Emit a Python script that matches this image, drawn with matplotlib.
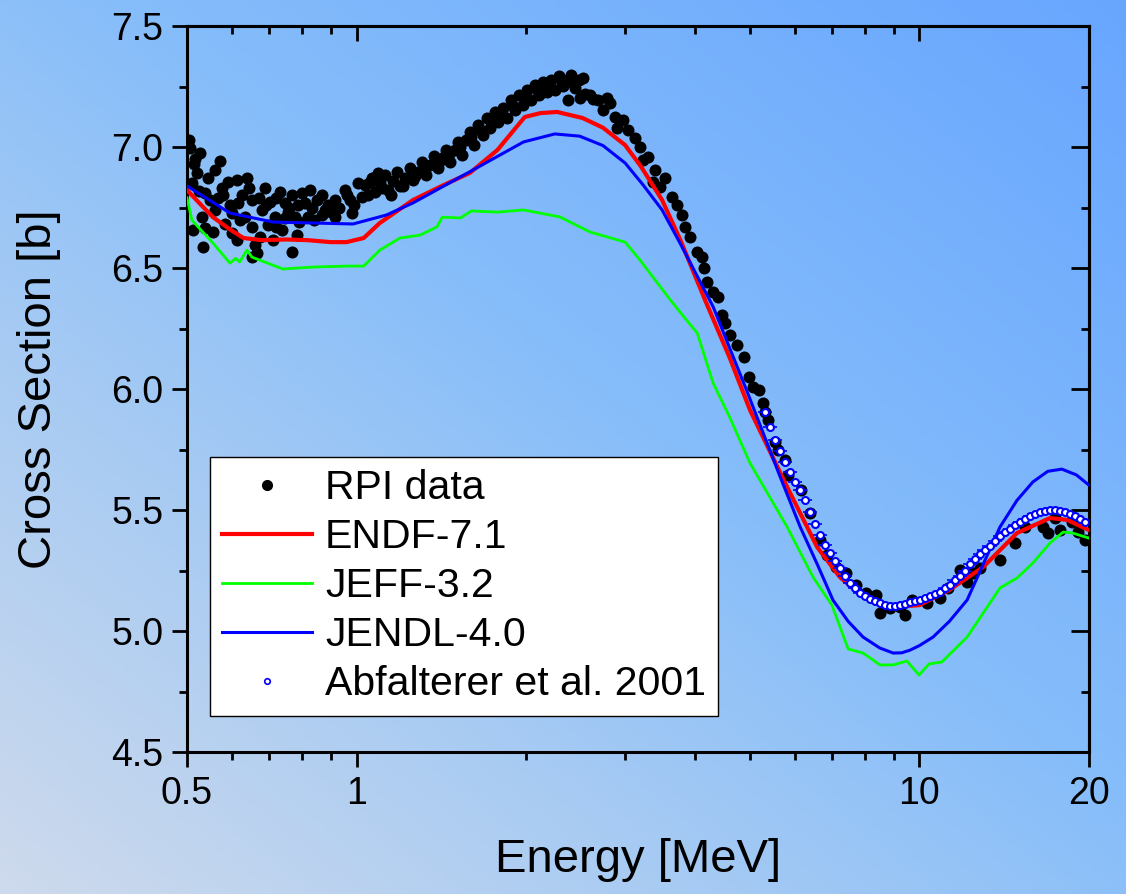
import numpy as np
import matplotlib
matplotlib.use('Agg')
import matplotlib.pyplot as plt
from matplotlib.colors import LinearSegmentedColormap
from matplotlib.lines import Line2D
from matplotlib.ticker import FixedLocator, NullFormatter, FixedFormatter

plt.rcParams['font.family'] = ['Liberation Sans', 'DejaVu Sans']

# ENDF-7.1 evaluation
endf_e = [0.5, 0.53, 0.556, 0.60, 0.63, 0.68, 0.75, 0.82, 0.90, 0.96, 1.03, 1.10, 1.26, 1.42,
          1.59, 1.78, 1.99, 2.12, 2.27, 2.52, 2.74, 3.0, 3.2, 3.49, 3.76, 4.16, 4.6, 5.0, 5.82,
          6.58, 7.22, 7.94, 8.98, 10.0, 11.3, 12.97, 14.9, 17.06, 18.3, 20.0]
endf_xs = [6.822, 6.76, 6.71, 6.655, 6.624, 6.615, 6.618, 6.615, 6.607, 6.607, 6.624, 6.686, 6.781, 6.84,
           6.893, 6.988, 7.124, 7.14, 7.145, 7.12, 7.08, 7.008, 6.92, 6.781, 6.616, 6.368, 6.13, 5.913, 5.595,
           5.347, 5.223, 5.14, 5.099, 5.107, 5.17, 5.264, 5.405, 5.467, 5.459, 5.417]

# JEFF-3.2 evaluation
jeff_e = [0.5, 0.51, 0.556, 0.596, 0.61, 0.62, 0.639, 0.652, 0.74, 0.837, 0.962, 1.03, 1.10, 1.195,
          1.297, 1.39, 1.42, 1.53, 1.60, 1.78, 1.98, 2.118, 2.298, 2.598, 3.0, 3.188, 3.61, 3.755,
          4.03, 4.3, 4.6, 5.0, 5.82, 6.47, 6.99, 7.47, 7.94, 8.51, 8.98, 9.5, 9.98, 10.4, 10.96,
          12.15, 13.9, 14.9, 15.9, 17.06, 18.0, 18.7, 20.0]
jeff_xs = [6.79, 6.698, 6.603, 6.52, 6.54, 6.525, 6.574, 6.545, 6.496, 6.504, 6.508, 6.508, 6.574, 6.624,
           6.636, 6.67, 6.71, 6.707, 6.736, 6.731, 6.74, 6.727, 6.711, 6.649, 6.607, 6.533, 6.368, 6.318,
           6.231, 6.025, 5.884, 5.694, 5.43, 5.223, 5.107, 4.926, 4.909, 4.86, 4.86, 4.876, 4.818, 4.864, 4.872,
           4.975, 5.178, 5.219, 5.281, 5.364, 5.409, 5.405, 5.384]

# JENDL-4.0 evaluation
jendl_e = [0.5, 0.596, 0.711, 0.837, 0.986, 1.13, 1.26, 1.61, 1.98, 2.25, 2.49, 2.74, 3.0, 3.23,
           3.49, 3.755, 4.3, 4.94, 5.65, 6.14, 6.6, 7.02, 7.47, 7.94, 8.5, 8.98, 9.3, 9.62, 10.0,
           10.57, 11.3, 12.15, 13.0, 13.9, 14.9, 15.9, 16.9, 17.9, 19.0, 20.0]
jendl_xs = [6.839, 6.727, 6.69, 6.686, 6.682, 6.719, 6.769, 6.905, 7.021, 7.054, 7.045, 7.006, 6.934, 6.843,
            6.74, 6.603, 6.34, 5.99, 5.64, 5.43, 5.27, 5.128, 5.04, 4.975, 4.93, 4.909, 4.91, 4.921, 4.94,
            4.975, 5.04, 5.128, 5.28, 5.43, 5.54, 5.616, 5.66, 5.669, 5.645, 5.603]

# RPI transmission data
rpi_e = [0.506, 0.527, 0.572, 0.521, 0.561, 0.545, 0.510, 0.591, 0.613, 0.639, 0.577, 0.688, 0.731,
         0.768, 0.800, 0.827, 0.869, 0.954, 1.006, 1.092, 1.057, 0.538, 0.568, 0.616, 0.652, 0.702,
         0.746, 0.787, 0.834, 0.879, 0.916, 0.974, 1.023, 0.531, 0.561, 0.601, 0.634, 0.680, 0.717,
         0.746, 0.778, 0.820, 0.869, 0.916, 0.982, 0.512, 0.538, 0.556, 0.601, 0.652, 0.696, 0.737,
         0.784, 0.613, 0.534, 0.660, 0.711, 0.666, 0.652, 0.768, 0.505, 0.516,
         0.515, 0.525, 0.550, 0.580, 0.595, 0.625, 0.645, 0.670, 0.690, 0.720, 0.755, 0.790, 0.810,
         0.850, 0.890, 0.930, 0.960, 0.990, 0.620, 0.585, 0.675, 0.720, 0.760, 0.840, 0.900,
         1.035, 1.066, 1.079, 1.101, 1.124, 1.138, 1.161, 1.181, 1.195, 1.219, 1.245, 1.260, 1.286,
         1.307, 1.329, 1.351, 1.373, 1.396, 1.419, 1.442, 1.466, 1.496, 1.515, 1.539, 1.565, 1.591,
         1.617, 1.643, 1.677, 1.705, 1.726, 1.762, 1.784, 1.820, 1.850, 1.881, 1.912, 1.944, 1.976,
         2.008, 2.041, 2.075, 2.109, 2.144, 2.179, 2.215, 2.252, 2.289, 2.327, 2.365, 2.404, 2.444,
         2.484, 2.525, 2.375, 2.494, 2.598, 2.685, 2.786, 2.741, 2.820, 2.878, 2.974, 2.902, 3.036,
         1.050, 1.110, 1.150, 1.210, 1.270, 1.330, 1.400, 1.460, 1.530, 1.600, 1.660, 1.740, 1.800,
         1.900, 2.000, 2.100, 2.200, 2.320, 2.430, 2.550, 2.630,
         3.124, 3.188, 3.294, 3.228, 3.390, 3.362, 3.532, 3.460, 3.634, 3.709, 3.786, 3.833, 3.912,
         4.026, 4.109, 4.142, 4.193, 4.298, 4.386, 4.458, 4.514, 4.607, 4.741, 4.878, 4.980, 5.062,
         5.187, 5.271, 5.318, 5.384, 5.540, 5.608, 5.771, 5.830, 6.161, 6.391, 6.657, 6.850, 7.107,
         7.404, 7.712, 8.035, 8.370, 8.508, 8.863, 9.233, 9.424, 9.698, 10.32, 10.88, 11.24, 11.80,
         12.15, 12.45, 12.81, 13.90, 14.78, 15.40, 16.57, 16.91, 17.77, 17.41, 18.66, 19.12, 19.68]
rpi_xs = [6.996, 6.975, 6.942, 6.893, 6.905, 6.872, 6.851, 6.855, 6.864, 6.872, 6.831, 6.831, 6.814,
          6.802, 6.810, 6.822, 6.802, 6.822, 6.851, 6.893, 6.855, 6.810, 6.789, 6.769, 6.781, 6.773,
          6.769, 6.760, 6.748, 6.740, 6.781, 6.781, 6.793, 6.711, 6.740, 6.727, 6.711, 6.740, 6.711,
          6.707, 6.711, 6.711, 6.719, 6.711, 6.727, 6.657, 6.665, 6.649, 6.645, 6.669, 6.678, 6.657,
          6.636, 6.616, 6.587, 6.595, 6.616, 6.562, 6.545, 6.566, 7.03, 6.95,
          6.93, 6.82, 6.78, 6.80, 6.76, 6.80, 6.83, 6.79, 6.76, 6.79, 6.73, 6.69, 6.77,
          6.78, 6.76, 6.75, 6.80, 6.76, 6.70, 6.68, 6.63, 6.67, 6.75, 6.70, 6.73,
          6.843, 6.872, 6.814, 6.851, 6.884, 6.822, 6.860, 6.897, 6.839, 6.872, 6.913, 6.864, 6.897,
          6.938, 6.884, 6.926, 6.963, 6.913, 6.955, 6.988, 6.938, 6.988, 7.021, 6.967, 7.029, 7.062,
          7.008, 7.091, 7.050, 7.120, 7.079, 7.145, 7.103, 7.161, 7.120, 7.194, 7.153, 7.215, 7.174,
          7.236, 7.194, 7.256, 7.215, 7.269, 7.227, 7.277, 7.236, 7.293, 7.252, 7.277, 7.298, 7.244,
          7.277, 7.285, 7.194, 7.202, 7.215, 7.194, 7.202, 7.153, 7.182, 7.124, 7.112, 7.079, 7.070,
          6.80, 6.83, 6.80, 6.84, 6.88, 6.92, 6.94, 6.97, 7.00, 7.04, 7.07, 7.10, 7.13,
          7.17, 7.20, 7.23, 7.25, 7.27, 7.26, 7.22, 7.20,
          7.037, 7.000, 6.959, 6.946, 6.905, 6.855, 6.872, 6.835, 6.793, 6.760, 6.719, 6.669, 6.628,
          6.566, 6.545, 6.500, 6.442, 6.401, 6.380, 6.306, 6.273, 6.223, 6.182, 6.132, 6.050, 6.008,
          5.996, 5.942, 5.905, 5.872, 5.781, 5.748, 5.707, 5.645, 5.583, 5.488, 5.376, 5.314, 5.264,
          5.240, 5.190, 5.157, 5.149, 5.074, 5.095, 5.099, 5.066, 5.128, 5.116, 5.136, 5.178, 5.252,
          5.202, 5.240, 5.260, 5.293, 5.364, 5.430, 5.430, 5.405, 5.417, 5.467, 5.450, 5.409, 5.376]

# Abfalterer et al. 2001
abf_e = [5.318, 5.428, 5.540, 5.654, 5.771, 5.890, 6.011, 6.135, 6.262, 6.391, 6.523, 6.657, 6.795,
         6.935, 7.078, 7.224, 7.373, 7.526, 7.681, 7.840, 8.002, 8.167, 8.336, 8.508, 8.684, 8.863,
         9.046, 9.233, 9.424, 9.619, 9.818, 10.02, 10.23, 10.44, 10.66, 10.88, 11.10, 11.33, 11.56,
         11.80, 12.05, 12.30, 12.55, 12.81, 13.07, 13.34, 13.62, 13.90, 14.19, 14.48, 14.78, 15.09,
         15.40, 15.72, 16.04, 16.37, 16.71, 17.06, 17.41, 17.77, 18.13, 18.51, 18.89, 19.28, 19.68]
abf_xs = [5.905, 5.843, 5.789, 5.744, 5.698, 5.657, 5.616, 5.583, 5.541, 5.492, 5.442, 5.397, 5.355,
          5.322, 5.289, 5.260, 5.227, 5.198, 5.178, 5.157, 5.145, 5.132, 5.124, 5.116, 5.107, 5.103,
          5.103, 5.107, 5.112, 5.120, 5.124, 5.128, 5.136, 5.145, 5.153, 5.161, 5.178, 5.190, 5.211,
          5.227, 5.248, 5.277, 5.298, 5.318, 5.335, 5.351, 5.372, 5.393, 5.409, 5.421, 5.438, 5.450,
          5.463, 5.475, 5.483, 5.492, 5.496, 5.500, 5.500, 5.496, 5.492, 5.483, 5.475, 5.463, 5.450]
abf_rel_err = 0.03

fig = plt.figure(figsize=(11.26, 8.94), dpi=100)

# background gradient
bg = fig.add_axes([0, 0, 1, 1], zorder=-10)
u, v = np.meshgrid(np.linspace(0, 1, 400), np.linspace(1, 0, 320))
cmap = LinearSegmentedColormap.from_list('bg', [(0.0, '#cedaec'), (0.3, '#a8cbf3'),
                                                (0.55, '#86bdfa'), (1.0, '#68a6ff')])
bg.imshow((u + v) / 2, cmap=cmap, aspect='auto', extent=[0, 1, 0, 1], vmin=0, vmax=1)
bg.axis('off')

ax = fig.add_axes([0.1661, 0.1588, 0.801, 0.8121])
ax.patch.set_alpha(0)

ax.scatter(rpi_e, rpi_xs, s=75, color='black', zorder=2, linewidths=0)
ax.plot(endf_e, endf_xs, color='#ff0000', lw=3.0, zorder=3)
ax.plot(jeff_e, jeff_xs, color='#00ff00', lw=2.0, zorder=3)
ax.plot(jendl_e, jendl_xs, color='#0000ff', lw=2.2, zorder=3)
abf_err = [x * abf_rel_err for x in abf_e]
ax.errorbar(abf_e, abf_xs, xerr=abf_err, fmt='o', ms=5, mfc='white', mec='#0000ff', mew=1.5,
            ecolor='#0000ff', elinewidth=1.2, capsize=0, zorder=4)

ax.set_xscale('log')
ax.set_xlim(0.5, 20)
ax.set_ylim(4.5, 7.5)

xmaj = [0.5, 1, 10, 20]
xmin = [0.6, 0.7, 0.8, 0.9, 2, 3, 4, 5, 6, 7, 8, 9]
ax.xaxis.set_major_locator(FixedLocator(xmaj))
ax.xaxis.set_major_formatter(FixedFormatter(['0.5', '1', '10', '20']))
ax.xaxis.set_minor_locator(FixedLocator(xmin))
ax.xaxis.set_minor_formatter(NullFormatter())
ax.set_yticks([4.5, 5.0, 5.5, 6.0, 6.5, 7.0, 7.5])
ax.set_yticklabels(['4.5', '5.0', '5.5', '6.0', '6.5', '7.0', '7.5'])
ax.yaxis.set_minor_locator(FixedLocator([4.75, 5.25, 5.75, 6.25, 6.75, 7.25]))

for sp in ax.spines.values():
    sp.set_linewidth(2.2)
ax.tick_params(which='major', direction='out', length=11, width=2.0, labelsize=27, pad=6)
ax.tick_params(which='minor', direction='out', length=6, width=2.0)

top = ax.secondary_xaxis('top')
top.xaxis.set_major_locator(FixedLocator(xmaj))
top.xaxis.set_minor_locator(FixedLocator(xmin))
top.xaxis.set_major_formatter(NullFormatter())
top.xaxis.set_minor_formatter(NullFormatter())
top.tick_params(which='major', direction='in', length=11, width=2.0)
top.tick_params(which='minor', direction='in', length=6, width=2.0)
top.spines['top'].set_linewidth(2.2)

right = ax.secondary_yaxis('right')
right.set_yticks([4.5, 5.0, 5.5, 6.0, 6.5, 7.0, 7.5])
right.yaxis.set_minor_locator(FixedLocator([4.75, 5.25, 5.75, 6.25, 6.75, 7.25]))
right.yaxis.set_major_formatter(NullFormatter())
right.tick_params(which='major', direction='in', length=13, width=2.0)
right.tick_params(which='minor', direction='in', length=6, width=2.0)
right.spines['right'].set_linewidth(2.2)

ax.set_xlabel('Energy [MeV]', fontsize=34, labelpad=19)
ax.set_ylabel('Cross Section [b]', fontsize=34, labelpad=36)

handles = [
    Line2D([], [], ls='none', marker='o', ms=7, color='black'),
    Line2D([], [], color='#ff0000', lw=3.0),
    Line2D([], [], color='#00ff00', lw=2.0),
    Line2D([], [], color='#0000ff', lw=2.2),
    Line2D([], [], ls='none', marker='o', ms=4, mfc='white', mec='#0000ff', mew=1.2),
]
labels = ['RPI data', 'ENDF-7.1', 'JEFF-3.2', 'JENDL-4.0', 'Abfalterer et al. 2001']
leg = ax.legend(handles, labels, loc='lower left', bbox_to_anchor=(0.025, 0.05), fontsize=29.5,
                frameon=True, fancybox=False, edgecolor='black', framealpha=1, handlelength=2.2,
                handletextpad=0.32, labelspacing=0.27, borderpad=0.3, borderaxespad=0)
leg.get_frame().set_linewidth(1.0)

fig.savefig('out.png', dpi=100)
